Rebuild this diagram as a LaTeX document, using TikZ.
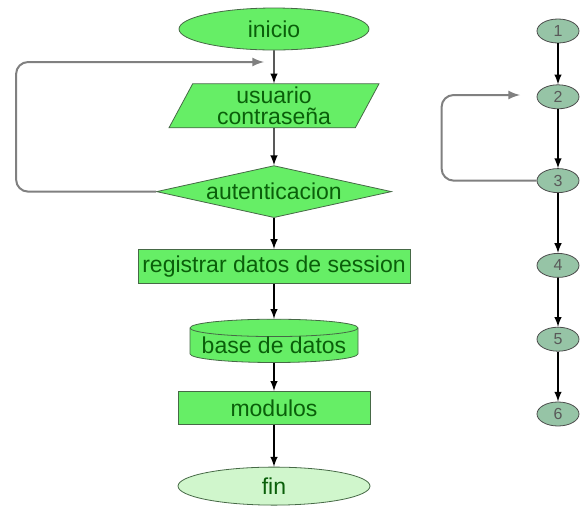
\documentclass[tikz,border=0pt]{standalone}
\usepackage{fontspec}
\setmainfont{Liberation Sans}
\usetikzlibrary{arrows,shapes.geometric,positioning}
\usepackage{color}

\definecolor{verde}{RGB}{102,238,102}
\definecolor{verdeclaro}{RGB}{208,246,204}
\definecolor{borde}{RGB}{70,105,70}
\definecolor{letra}{RGB}{10,95,10}
\definecolor{grisverde}{RGB}{150,196,166}

\begin{document}
\begin{tikzpicture}[x=0.5pt, y=-0.5pt, -latex, node distance = 17pt,
                    auto, main/.style = {draw=borde, fill=verde, text=letra, inner sep=0pt,
                    font=\fontsize{11.5}{10.5}\selectfont},
                    num/.style = {ellipse, draw=black!70, fill=grisverde, text=black!65,
                    minimum width=21pt, minimum height=12pt, inner sep=0pt,
                    font=\fontsize{8}{9}\selectfont},
                    flecha/.style = {draw=black, line width=0.7pt},
                    vuelta/.style = {draw=gray, line width=1pt, rounded corners=6pt}]
\useasboundingbox (0,0) rectangle (580,510);
    % diagrama de flujo
    \node[main, ellipse, minimum width=95pt, minimum height=21pt] (inicio) at (274,29) {inicio};
\node[main, trapezium, trapezium left angle=58, trapezium right angle=122, trapezium stretches body,
      minimum width=105pt, minimum height=22pt, align=center, below=16.5pt of inicio] (usuario) {usuario\\contraseña};
\node[main, diamond, aspect=4.5, minimum width=117.5pt, minimum height=26pt, below=18.5pt of usuario] (aut) {autenticacion};
\node[main, minimum width=136pt, minimum height=17pt, below=15.5pt of aut] (reg) {registrar datos de session};
\node[main, cylinder, shape border rotate=90, aspect=0.12, minimum width=84pt, minimum height=21pt,
      below=17.5pt of reg] (bd) {base de datos};
\node[main, minimum width=96pt, minimum height=16.5pt, below=14pt of bd] (mod) {modulos};
\node[main, ellipse, fill=verdeclaro, minimum width=96pt, minimum height=19pt, below=21pt of mod] (fin) {fin};
\coordinate (retorno) at (264,62);
    % grafo
    \node[num] (1) at (558,31) {1};
\node[num, below=20.5pt of 1] (2) {2};
\node[num, below=29.5pt of 2] (3) {3};
\node[num, below=30pt of 3] (4) {4};
\node[num, below=24.5pt of 4] (5) {5};
\node[num, below=25pt of 5] (6) {6};
\coordinate (retorno2) at (520,95);
    \path[flecha]
(inicio) edge (usuario)
(usuario) edge (aut)
(aut) edge (reg)
(reg) edge (bd)
(bd) edge (mod)
(mod) edge (fin)
(1) edge (2)
(2) edge (3)
(3) edge (4)
(4) edge (5)
(5) edge (6);
    \draw[vuelta] (aut.west) -- ++(-140,0) |- (retorno);
\draw[vuelta] (3.west) -- ++(-95,0) |- (retorno2);
\end{tikzpicture}
\end{document}
